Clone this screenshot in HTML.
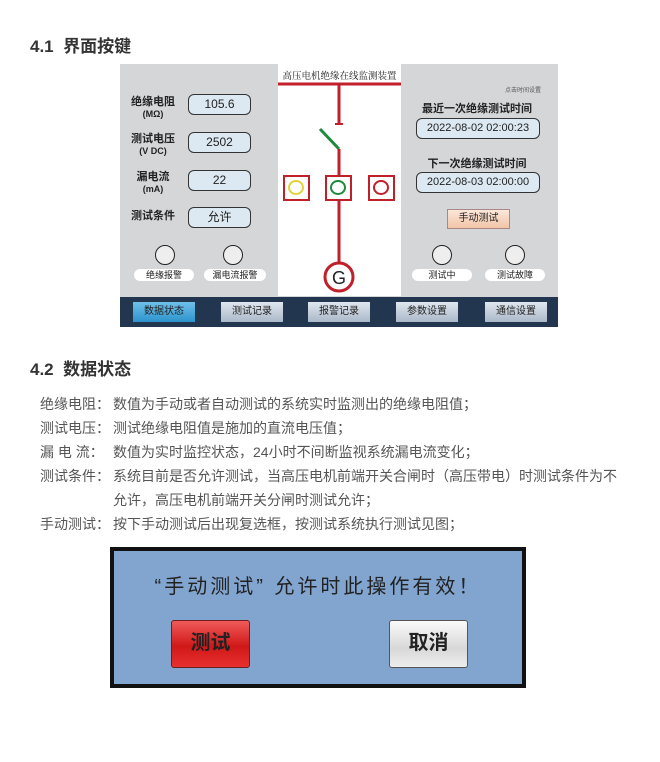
<!DOCTYPE html>
<html><head><meta charset="utf-8"><style>
*{margin:0;padding:0;box-sizing:border-box}
body{width:660px;height:762px;background:#fff;position:relative;overflow:hidden;font-family:"Liberation Sans","Noto Sans CJK SC",sans-serif;color:#333}
.a{position:absolute;white-space:nowrap}
h2{position:absolute;font-size:17px;font-weight:bold;color:#333}
.p{position:absolute;font-size:14px;color:#555;left:40px;white-space:nowrap}
.p b{display:inline-block;width:73px;font-weight:normal}
.panel{position:absolute;left:120px;top:64px;width:438px;height:263px;background:#d4d6d8}
.lab{position:absolute;font-size:11px;font-weight:bold;color:#222;text-align:center;line-height:12px}
.val{position:absolute;border:1.5px solid #333;border-radius:6px;background:#dce9f2;font-size:12px;text-align:center;color:#222}
.cir{position:absolute;width:20px;height:20px;border:1.5px solid #222;border-radius:50%;background:#eee}
.pill{position:absolute;height:12px;background:#fff;border-radius:6px;font-size:9px;text-align:center;line-height:12px;color:#222}
.nav{position:absolute;left:0;top:233px;width:438px;height:30px;background:#233650}
.nb{position:absolute;top:5px;height:20px;width:62px;background:linear-gradient(#dfe6ef,#aab8c8);font-size:10px;text-align:center;line-height:20px;color:#222}
.box{position:absolute;width:27px;height:26px;border:2.5px solid #c0202a;background:#fff}
.box i{position:absolute;left:3px;top:3px;width:16px;height:15px;border-radius:50%;border:2px solid}
</style></head><body>
<h2 style="left:30px;top:32px">4.1&nbsp; 界面按键</h2>
<div class="panel">
  <div class="a" style="left:158px;top:0;width:123px;height:232px;background:#fff"></div>
  <div class="a" style="left:158px;top:4px;width:123px;text-align:center;font-size:9.5px;font-family:'Liberation Serif','Noto Serif CJK SC',serif;color:#222">高压电机绝缘在线监测装置</div>
  <svg class="a" style="left:0;top:0" width="438" height="233">
    <line x1="158" y1="20" x2="281" y2="20" stroke="#c0202a" stroke-width="3"/>
    <line x1="219" y1="20" x2="219" y2="60" stroke="#c0202a" stroke-width="3"/>
    <line x1="215" y1="60" x2="223" y2="60" stroke="#c0202a" stroke-width="2"/>
    <line x1="200" y1="65" x2="219" y2="85" stroke="#1e8a3c" stroke-width="3"/>
    <line x1="219" y1="85" x2="219" y2="200" stroke="#c0202a" stroke-width="3"/>
    <circle cx="219" cy="213" r="14" fill="#fff" stroke="#c0202a" stroke-width="3"/>
    <text x="219" y="220" text-anchor="middle" font-size="18" font-family="Liberation Sans" fill="#222">G</text>
  </svg>
  <div class="box" style="left:163px;top:111px"><i style="border-color:#e4d23a"></i></div>
  <div class="box" style="left:205px;top:111px"><i style="border-color:#1e8a3c"></i></div>
  <div class="box" style="left:248px;top:111px"><i style="border-color:#c0202a"></i></div>

  <div class="lab" style="left:8px;top:32px;width:50px">绝缘电阻<br><span style="font-size:9px">(MΩ)</span></div>
  <div class="val" style="left:68px;top:30px;width:63px;height:21px;line-height:18px">105.6</div>
  <div class="lab" style="left:8px;top:69px;width:50px">测试电压<br><span style="font-size:9px">(V DC)</span></div>
  <div class="val" style="left:68px;top:68px;width:63px;height:21px;line-height:18px">2502</div>
  <div class="lab" style="left:8px;top:107px;width:50px">漏电流<br><span style="font-size:9px">(mA)</span></div>
  <div class="val" style="left:68px;top:106px;width:63px;height:21px;line-height:18px">22</div>
  <div class="lab" style="left:8px;top:146px;width:50px">测试条件</div>
  <div class="val" style="left:68px;top:143px;width:63px;height:21px;line-height:18px">允许</div>
  <div class="cir" style="left:35px;top:181px"></div>
  <div class="cir" style="left:103px;top:181px"></div>
  <div class="pill" style="left:14px;top:205px;width:60px">绝缘报警</div>
  <div class="pill" style="left:84px;top:205px;width:62px">漏电流报警</div>

  <div class="a" style="left:385px;top:21px;font-size:6px;color:#555">点击时间设置</div>
  <div class="lab" style="left:290px;top:39px;width:134px;font-size:11px">最近一次绝缘测试时间</div>
  <div class="val" style="left:296px;top:54px;width:124px;height:21px;line-height:18px;font-size:11px">2022-08-02 02:00:23</div>
  <div class="lab" style="left:290px;top:94px;width:134px;font-size:11px">下一次绝缘测试时间</div>
  <div class="val" style="left:296px;top:108px;width:124px;height:21px;line-height:18px;font-size:11px">2022-08-03 02:00:00</div>
  <div class="a" style="left:327px;top:145px;width:63px;height:20px;background:linear-gradient(#fbe7da,#f2c4a8);border:1px solid #a88;font-size:10px;text-align:center;line-height:18px;color:#222">手动测试</div>
  <div class="cir" style="left:312px;top:181px"></div>
  <div class="cir" style="left:385px;top:181px"></div>
  <div class="pill" style="left:292px;top:205px;width:60px">测试中</div>
  <div class="pill" style="left:365px;top:205px;width:60px">测试故障</div>

  <div class="nav">
    <div class="nb" style="left:13px;background:linear-gradient(#6fc0ea,#2d93cc)">数据状态</div>
    <div class="nb" style="left:101px">测试记录</div>
    <div class="nb" style="left:188px">报警记录</div>
    <div class="nb" style="left:276px">参数设置</div>
    <div class="nb" style="left:365px">通信设置</div>
  </div>
</div>

<h2 style="left:30px;top:355px">4.2&nbsp; 数据状态</h2>
<div class="p" style="top:394px"><b>绝缘电阻：</b>数值为手动或者自动测试的系统实时监测出的绝缘电阻值；</div>
<div class="p" style="top:418px"><b>测试电压：</b>测试绝缘电阻值是施加的直流电压值；</div>
<div class="p" style="top:442px"><b>漏&nbsp;电&nbsp;流：</b>数值为实时监控状态，24小时不间断监视系统漏电流变化；</div>
<div class="p" style="top:466px"><b>测试条件：</b>系统目前是否允许测试，当高压电机前端开关合闸时（高压带电）时测试条件为不</div>
<div class="p" style="top:490px;left:113px">允许，高压电机前端开关分闸时测试允许；</div>
<div class="p" style="top:514px"><b>手动测试：</b>按下手动测试后出现复选框，按测试系统执行测试见图；</div>

<div class="a" style="left:110px;top:547px;width:416px;height:141px;background:#82a5d0;border:4px solid #111"></div>
<div class="a" style="left:110px;top:570px;width:416px;text-align:center;font-size:20px;color:#222;letter-spacing:3px">“手动测试” 允许时此操作有效！</div>
<div class="a" style="left:171px;top:620px;width:79px;height:48px;background:linear-gradient(#f05a5a,#d01818 55%,#e83030);border:1.5px solid #6a2020;border-radius:3px;font-size:20px;font-weight:bold;text-align:center;line-height:45px;color:#222">测试</div>
<div class="a" style="left:389px;top:620px;width:79px;height:48px;background:linear-gradient(#fafafa,#d8d8d8 60%,#eee);border:1.5px solid #555;border-radius:3px;font-size:20px;font-weight:bold;text-align:center;line-height:45px;color:#222">取消</div>
</body></html>
